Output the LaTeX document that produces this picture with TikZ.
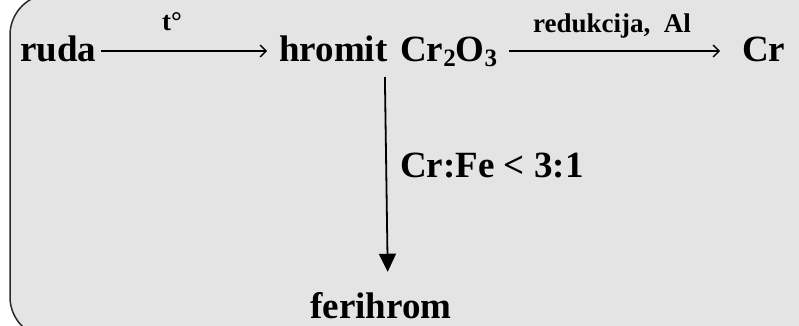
\documentclass[tikz,border=0pt]{standalone}
\usepackage{fontspec}
\setmainfont{Liberation Serif}
\usepackage{tikz}
\usetikzlibrary{arrows.meta,positioning}
\definecolor{PanelFill}{HTML}{E4E4E4}
\definecolor{PanelRule}{HTML}{2A2A2A}
\newcommand{\chsub}[1]{\raisebox{-5pt}{\fontsize{25}{25}\selectfont #1}}

\begin{document}
\begin{tikzpicture}[x=1pt,y=-1pt,
  chem/.style={inner sep=0pt,anchor=base west,font=\fontsize{37}{40}\selectfont\bfseries},
  cond/.style={inner sep=0pt,anchor=base,font=\fontsize{27}{30}\selectfont\bfseries},
  flow/.style={-{Straight Barb[length=6pt,width=12pt]},line width=1.3pt},
  drop/.style={-{Triangle[length=18pt,width=17pt]},line width=1.8pt}]
  \useasboundingbox (0,0) rectangle (799,325);
  \begin{scope}
    \clip (0,0) rectangle (799,325);
    \draw[PanelRule,fill=PanelFill,line width=1.5pt,rounded corners=41pt] (10,-6) rectangle (860,338);
  \end{scope}
  % main line
  \node[chem] (ruda) at (20,61) {ruda};
  \node[chem] (hromit) at (279,61) {hromit};
  \node[chem] (oxide) at (400,61) {Cr\chsub{2}O\chsub{3}};
  \node[chem] (cr) at (742,61) {Cr};
  \node[chem,anchor=base] (ferihrom) at (381,318) {ferihrom};
  % conditions
  \node[cond] (heat) at (172,30) {t°};
  \node[cond] (reduce) at (612,32) {redukcija,\ \ Al};
  \node[chem] (ratio) at (400,177) {Cr:Fe < 3:1};
  % arrows
  \draw[flow,shorten <=5pt,shorten >=12pt] ([yshift=10pt]ruda.base east) -- ([yshift=10pt]hromit.base west);
  \draw[flow,shorten <=12pt,shorten >=22pt] ([yshift=10pt]oxide.base east) -- ([yshift=10pt]cr.base west);
  \draw[drop,shorten <=16pt,shorten >=20pt] ([xshift=-3pt]hromit.base east) -- ([xshift=7pt]ferihrom.north);
\end{tikzpicture}
\end{document}
